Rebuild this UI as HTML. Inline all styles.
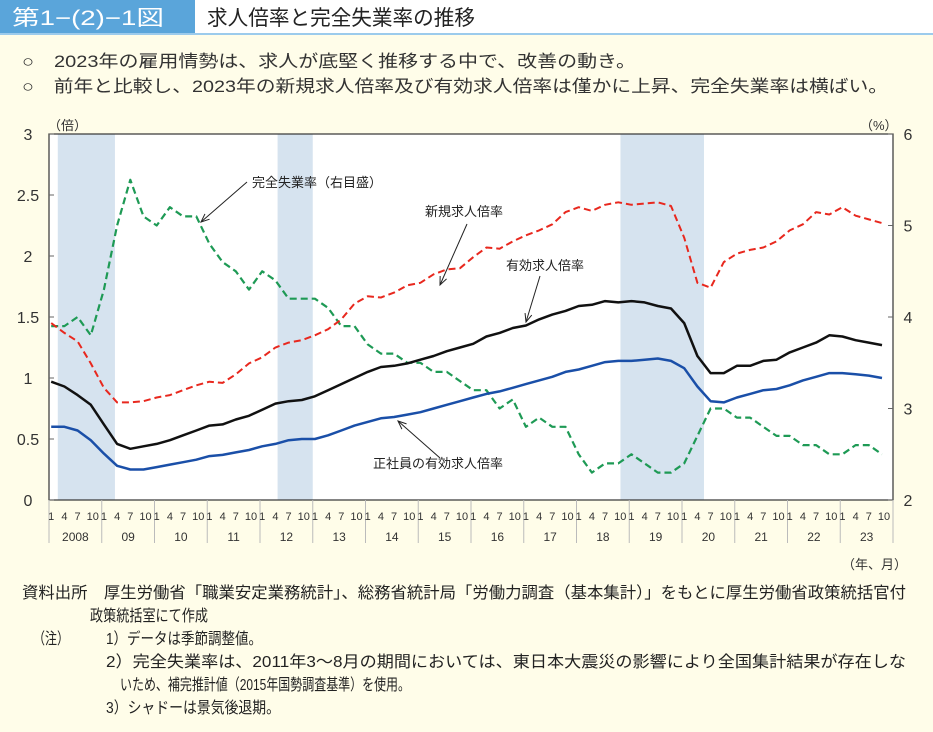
<!DOCTYPE html>
<html><head><meta charset="utf-8">
<style>
html,body{margin:0;padding:0;background:#fffde9;}
svg{display:block;font-family:"Liberation Sans","Noto Sans CJK JP",sans-serif;}
</style></head>
<body>
<svg id="chart" width="933" height="732" viewBox="0 0 933 732" xmlns="http://www.w3.org/2000/svg">
<rect x="0" y="0" width="933" height="732" fill="#fffde9"/>
<rect x="0" y="0" width="933" height="34" fill="#ffffff"/>
<rect x="0" y="0" width="195" height="33" fill="#5aa5da"/>
<line x1="0" y1="34" x2="933" y2="34" stroke="#9ccbec" stroke-width="2"/>
<text x="12" y="25" font-size="21" fill="#ffffff" textLength="152" lengthAdjust="spacingAndGlyphs">第1−(2)−1図</text>
<text x="207" y="25" font-size="21" fill="#222" textLength="268" lengthAdjust="spacingAndGlyphs">求人倍率と完全失業率の推移</text>
<text x="22" y="67" font-size="17" fill="#333" textLength="614" lengthAdjust="spacingAndGlyphs">○　2023年の雇用情勢は、求人が底堅く推移する中で、改善の動き。</text>
<text x="22" y="92" font-size="17" fill="#333" textLength="866" lengthAdjust="spacingAndGlyphs">○　前年と比較し、2023年の新規求人倍率及び有効求人倍率は僅かに上昇、完全失業率は横ばい。</text>
<g id="plot"></g>
<g font-size="16" fill="#222">
<text x="22" y="598" textLength="884" lengthAdjust="spacingAndGlyphs">資料出所　厚生労働省「職業安定業務統計」、総務省統計局「労働力調査（基本集計）」をもとに厚生労働省政策統括官付</text>
<text x="90" y="621" textLength="118" lengthAdjust="spacingAndGlyphs">政策統括室にて作成</text>
<text x="33" y="644" textLength="36" lengthAdjust="spacingAndGlyphs">（注）</text>
<text x="106" y="644" textLength="156" lengthAdjust="spacingAndGlyphs">1）データは季節調整値。</text>
<text x="106" y="667" textLength="800" lengthAdjust="spacingAndGlyphs">2）完全失業率は、2011年3～8月の期間においては、東日本大震災の影響により全国集計結果が存在しな</text>
<text x="120" y="690" textLength="290" lengthAdjust="spacingAndGlyphs">いため、補完推計値（2015年国勢調査基準）を使用。</text>
<text x="106" y="713" textLength="174" lengthAdjust="spacingAndGlyphs">3）シャドーは景気後退期。</text>
</g>
</svg>
<script>
// quarterly data (Jan, Apr, Jul, Oct) 2008-2023
const years = [2008,2009,2010,2011,2012,2013,2014,2015,2016,2017,2018,2019,2020,2021,2022,2023];
const yearLabels = ["2008","09","10","11","12","13","14","15","16","17","18","19","20","21","22","23"];
const monthTicks = ["1","4","7","10"];
const leftTicks = [0,0.5,1,1.5,2,2.5,3];
const leftTickLabels = ["0","0.5","1","1.5","2","2.5","3"];
const rightTicks = [2,3,4,5,6];
const quarterMonths = [0,3,6,9];
const newOpenings = [1.45,1.37,1.30,1.12, 0.92,0.80,0.80,0.81, 0.84,0.86,0.90,0.94, 0.97,0.96,1.03,1.12, 1.17,1.25,1.29,1.31, 1.35,1.40,1.48,1.61, 1.67,1.66,1.70,1.76, 1.78,1.85,1.89,1.90, 1.99,2.07,2.06,2.12, 2.17,2.21,2.26,2.36, 2.40,2.37,2.42,2.44, 2.42,2.43,2.44,2.41, 2.15,1.78,1.74,1.95, 2.02,2.05,2.07,2.12, 2.21,2.26,2.36,2.34, 2.40,2.33,2.30,2.27];
const activeOpenings = [0.97,0.93,0.86,0.78, 0.62,0.46,0.42,0.44, 0.46,0.49,0.53,0.57, 0.61,0.62,0.66,0.69, 0.74,0.79,0.81,0.82, 0.85,0.90,0.95,1.00, 1.05,1.09,1.10,1.12, 1.15,1.18,1.22,1.25, 1.28,1.34,1.37,1.41, 1.43,1.48,1.52,1.55, 1.59,1.60,1.63,1.62, 1.63,1.62,1.59,1.57, 1.45,1.18,1.04,1.04, 1.10,1.10,1.14,1.15, 1.21,1.25,1.29,1.35, 1.34,1.31,1.29,1.27];
const regularOpenings = [0.60,0.60,0.57,0.49, 0.38,0.28,0.25,0.25, 0.27,0.29,0.31,0.33, 0.36,0.37,0.39,0.41, 0.44,0.46,0.49,0.50, 0.50,0.53,0.57,0.61, 0.64,0.67,0.68,0.70, 0.72,0.75,0.78,0.81, 0.84,0.87,0.89,0.92, 0.95,0.98,1.01,1.05, 1.07,1.10,1.13,1.14, 1.14,1.15,1.16,1.14, 1.08,0.93,0.81,0.80, 0.84,0.87,0.90,0.91, 0.94,0.98,1.01,1.04, 1.04,1.03,1.02,1.00];
const unemployment = [3.9,3.9,4.0,3.8, 4.3,5.0,5.5,5.1, 5.0,5.2,5.1,5.1, 4.8,4.6,4.5,4.3, 4.5,4.4,4.2,4.2, 4.2,4.1,3.9,3.9, 3.7,3.6,3.6,3.5, 3.5,3.4,3.4,3.3, 3.2,3.2,3.0,3.1, 2.8,2.9,2.8,2.8, 2.5,2.3,2.4,2.4, 2.5,2.4,2.3,2.3, 2.4,2.7,3.0,3.0, 2.9,2.9,2.8,2.7, 2.7,2.6,2.6,2.5, 2.5,2.6,2.6,2.5];
// recessions as [start month index, end month index] from Jan 2008
const recessions = [[2,15],[52,60],[130,149]];

const NS="http://www.w3.org/2000/svg";
const X0=49,X1=893,Y0=500,Y1=134,NM=years.length*12;
const xM=m=>X0+(m+0.5)*(X1-X0)/NM;
const xEdge=m=>X0+m*(X1-X0)/NM;
const yL=v=>Y0-(v-leftTicks[0])/(leftTicks[leftTicks.length-1]-leftTicks[0])*(Y0-Y1);
const yR=v=>Y0-(v-rightTicks[0])/(rightTicks[rightTicks.length-1]-rightTicks[0])*(Y0-Y1);
const g=document.getElementById('plot');
function mk(tag,attrs,parent){const e=document.createElementNS(NS,tag);for(const k in attrs)e.setAttribute(k,attrs[k]);(parent||g).appendChild(e);return e;}

const bg=mk('rect',{x:X0,y:Y1,width:X1-X0,height:Y0-Y1,fill:'#ffffff'});


recessions.forEach(r=>{
  const e=mk('rect',{x:xEdge(r[0]),y:Y1,width:xEdge(r[1])-xEdge(r[0]),height:Y0-Y1,fill:'#d6e3ef'});
  
  
});
const frame=mk('rect',{x:X0,y:Y1,width:X1-X0,height:Y0-Y1,fill:'none',stroke:'#333','stroke-width':1.2});


leftTicks.forEach((v,i)=>{
  const t=mk('text',{x:28,y:yL(v)+6,'font-size':16,fill:'#333','text-anchor':'middle'});t.textContent=leftTickLabels[i];
  
  
  const l=mk('line',{x1:X0,x2:X0+5,y1:yL(v),y2:yL(v),stroke:'#666'});
  
  
});
rightTicks.forEach(v=>{
  const t=mk('text',{x:908,y:yR(v)+6,'font-size':16,fill:'#333','text-anchor':'middle'});t.textContent=String(v);
  
  
  const l=mk('line',{x1:X1-5,x2:X1,y1:yR(v),y2:yR(v),stroke:'#666'});
  
  
});
const ul=mk('text',{x:48,y:130,'font-size':13,fill:'#333'});ul.textContent='（倍）';


const ur=mk('text',{x:860,y:130,'font-size':13,fill:'#333'});ur.textContent='（%）';


years.forEach((y,i)=>{
  const xs=xEdge(i*12);
  const l=mk('line',{x1:xs,x2:xs,y1:Y0,y2:543,stroke:'#bbb'});
  
  
  monthTicks.forEach((m,j)=>{
    const t=mk('text',{x:xM(i*12+quarterMonths[j])+(j==3?2:0),y:520,'font-size':11,fill:'#333','text-anchor':'middle'});t.textContent=m;
    
    
  });
  const t=mk('text',{x:xEdge(i*12+6),y:541,'font-size':12,fill:'#333','text-anchor':'middle'});t.textContent=yearLabels[i];
  
  
});
const lastSep=mk('line',{x1:X1,x2:X1,y1:Y0,y2:543,stroke:'#bbb'});


const xu=mk('text',{x:842,y:569,'font-size':13,fill:'#333'});xu.textContent='（年、月）';



function series(vals,yf,color,dash,name,w){
  const d=vals.map((v,i)=>(i?'L':'M')+xM(i*3).toFixed(1)+','+yf(v).toFixed(1)).join(' ');
  const p=mk('path',{d:d,fill:'none',stroke:color,'stroke-width':w,'stroke-dasharray':dash||'none','stroke-linejoin':'round'});
  
  
}
series(unemployment,yR,'#1e9a55','7,4','unemployment-line',2.2);
series(newOpenings,yL,'#e8281e','7,4','new-openings-line',2);
series(activeOpenings,yL,'#111111',null,'active-openings-line',2.5);
series(regularOpenings,yL,'#1a4fa8',null,'regular-openings-line',2.5);

function label(txt,x,y,ax1,ay1,ax2,ay2,name){
  const t=mk('text',{x:x,y:y,'font-size':13,fill:'#222'});t.textContent=txt;
  
  
  const l=mk('line',{x1:ax1,y1:ay1,x2:ax2,y2:ay2,stroke:'#222','stroke-width':1});
  
  
  const a=Math.atan2(ay2-ay1,ax2-ax1),s=9;
  const h=mk('path',{d:`M${ax2-s*Math.cos(a-0.4)},${ay2-s*Math.sin(a-0.4)} L${ax2},${ay2} L${ax2-s*Math.cos(a+0.4)},${ay2-s*Math.sin(a+0.4)}`,fill:'none',stroke:'#222'});
  
  
}
label('完全失業率（右目盛）',252,187,247,182,201,222,'unemployment-label');
label('新規求人倍率',425,216,467,224,440,285,'new-openings-label');
label('有効求人倍率',506,270,540,276,526,322,'active-openings-label');
label('正社員の有効求人倍率',373,468,440,458,398,421,'regular-openings-label');
</script>
</body></html>
